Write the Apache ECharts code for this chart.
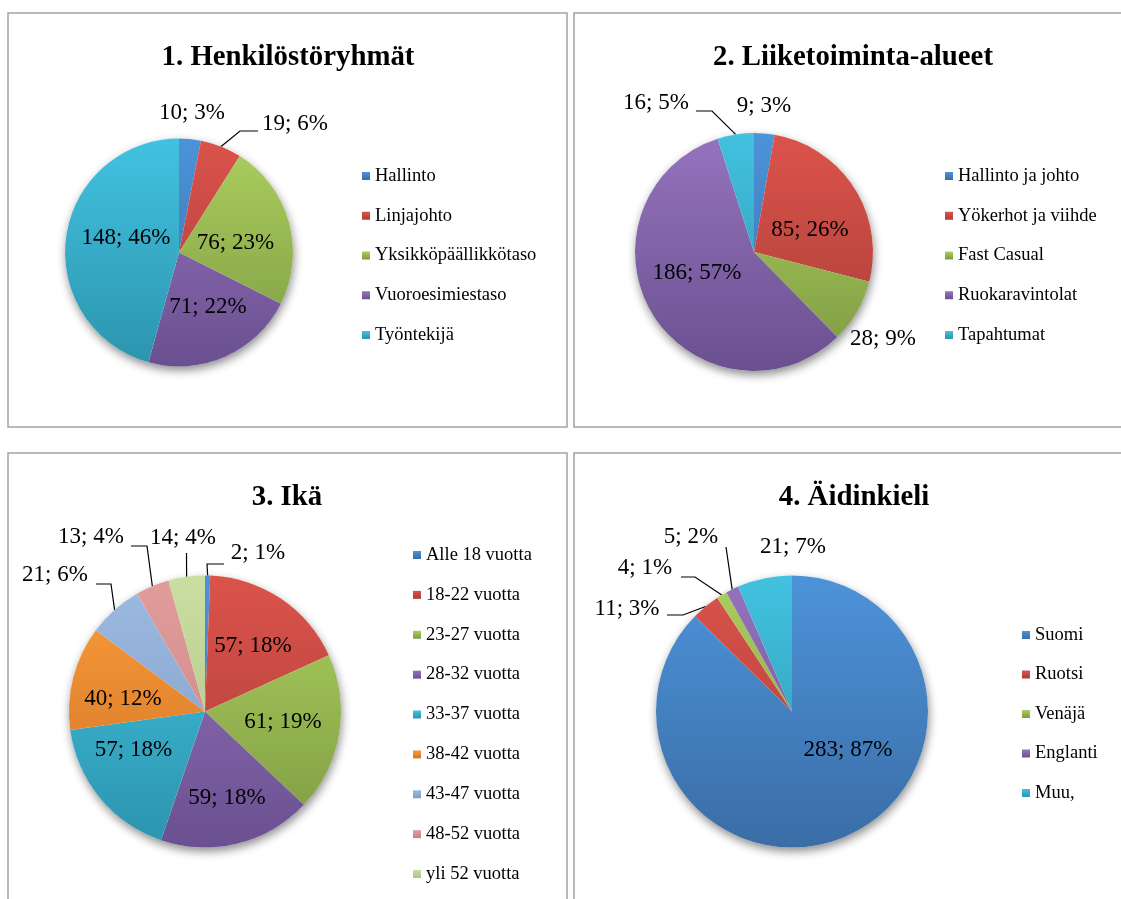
<!DOCTYPE html>
<html>
<head>
<meta charset="utf-8">
<title>Henkilöstökysely – taustatiedot</title>
<script src="https://cdn.jsdelivr.net/npm/echarts@6/dist/echarts.min.js"></script>
<style>
  html, body { margin: 0; padding: 0; background: #ffffff; }
  #chart { width: 1121px; height: 899px; }
</style>
</head>
<body>
<div id="chart"></div>
<script>
// ---- Data ----
const personnelGroups = ['Hallinto', 'Linjajohto', 'Yksikköpäällikkötaso', 'Vuoroesimiestaso', 'Työntekijä'];
const personnelCounts = [10, 19, 76, 71, 148];

const businessAreas = ['Hallinto ja johto', 'Yökerhot ja viihde', 'Fast Casual', 'Ruokaravintolat', 'Tapahtumat'];
const businessCounts = [9, 85, 28, 186, 16];

const ageGroups = ['Alle 18 vuotta', '18-22 vuotta', '23-27 vuotta', '28-32 vuotta', '33-37 vuotta',
                   '38-42 vuotta', '43-47 vuotta', '48-52 vuotta', 'yli 52 vuotta'];
const ageCounts = [2, 57, 61, 59, 57, 40, 21, 13, 14];

const languages = ['Suomi', 'Ruotsi', 'Venäjä', 'Englanti', 'Muu,'];
const languageCounts = [283, 11, 4, 5, 21];

// ---- Styling ----
const SERIF = '"Liberation Serif", "Times New Roman", Times, serif';

// [top, bottom] stops of the vertical shading used for every slice
const PALETTE = {
  blue:       ['#4D93D9', '#3A6DA6'],
  red:        ['#DB534B', '#A83E38'],
  green:      ['#ADCF5E', '#7D9A42'],
  purple:     ['#9574BD', '#6A5090'],
  aqua:       ['#42C2E0', '#2C94AE'],
  orange:     ['#FB9C3C', '#CF7223'],
  lightblue:  ['#9DBAE2', '#7F9BC2'],
  pink:       ['#E29D9B', '#C48381'],
  lightgreen: ['#C9DEA0', '#AFC286']
};

function pieShade(pair, cy, r) {
  return {
    type: 'linear', x: 0, y: cy - r, x2: 0, y2: cy + r, global: true,
    colorStops: [{ offset: 0, color: pair[0] }, { offset: 1, color: pair[1] }]
  };
}
function iconShade(pair) {
  return {
    type: 'linear', x: 0, y: 0, x2: 0, y2: 1,
    colorStops: [{ offset: 0, color: pair[0] }, { offset: 1, color: pair[1] }]
  };
}

// Panel layout: pie geometry, title, legend and label placement (offsets from pie centre)
const panels = [
  {
    title: '1. Henkilöstöryhmät', titleAt: [288, 58],
    names: personnelGroups, values: personnelCounts,
    colors: ['blue', 'red', 'green', 'purple', 'aqua'],
    center: [179, 252.5], radius: 114,
    legend: { left: 362, top: 166, gap: 19.75 },
    spots: [
      { at: [13, -139.5] },
      { at: [116, -128.5], line: [[61, -121.5], [79, -121.5]] },
      { at: [56.5, -9.5] },
      { at: [29, 54.5] },
      { at: [-53, -14.5] }
    ]
  },
  {
    title: '2. Liiketoiminta-alueet', titleAt: [853, 58],
    names: businessAreas, values: businessCounts,
    colors: ['blue', 'red', 'green', 'purple', 'aqua'],
    center: [754, 252], radius: 119,
    legend: { left: 945, top: 166, gap: 19.75 },
    spots: [
      { at: [10, -146] },
      { at: [56, -22] },
      { at: [129, 87] },
      { at: [-57, 21] },
      { at: [-98, -149], line: [[-42, -141], [-58, -141]] }
    ]
  },
  {
    title: '3. Ikä', titleAt: [287, 498],
    names: ageGroups, values: ageCounts,
    colors: ['blue', 'red', 'green', 'purple', 'aqua', 'orange', 'lightblue', 'pink', 'lightgreen'],
    center: [205, 711.5], radius: 136,
    legend: { left: 413, top: 545, gap: 19.875 },
    spots: [
      { at: [53, -158.5], line: [[2, -147.5], [19, -147.5]] },
      { at: [48, -65.5] },
      { at: [78, 10.5] },
      { at: [22, 86.5] },
      { at: [-71.5, 38.5] },
      { at: [-82, -12.5] },
      { at: [-150, -136.5], line: [[-94, -127.5], [-109, -127.5]] },
      { at: [-114, -174.5], line: [[-58, -165.5], [-74, -165.5]] },
      { at: [-22, -173.5], line: [[-18.5, -158.5]] }
    ]
  },
  {
    title: '4. Äidinkieli', titleAt: [854, 498],
    names: languages, values: languageCounts,
    colors: ['blue', 'red', 'green', 'purple', 'aqua'],
    center: [792, 711.5], radius: 136,
    legend: { left: 1022, top: 625, gap: 19.5 },
    spots: [
      { at: [56, 38.5] },
      { at: [-165, -102.5], line: [[-109, -96.5], [-125, -96.5]] },
      { at: [-147, -143.5], line: [[-97, -134.5], [-111, -134.5]] },
      { at: [-101, -174.5], line: [[-66, -164.5]] },
      { at: [1, -164.5] }
    ]
  }
];

// Point on the rim at the middle of slice i (pie starts at 12 o'clock, runs clockwise)
function rimPoint(values, i, cx, cy, r) {
  const total = values.reduce((a, b) => a + b, 0);
  let before = 0;
  for (let k = 0; k < i; k++) before += values[k];
  const mid = (before + values[i] / 2) / total * Math.PI * 2;
  return [cx + r * Math.sin(mid), cy - r * Math.cos(mid)];
}

const titles = [], legends = [], series = [];

panels.forEach(function (p) {
  const cx = p.center[0], cy = p.center[1], r = p.radius;

  titles.push({
    text: p.title,
    left: p.titleAt[0], top: p.titleAt[1],
    textAlign: 'center', textVerticalAlign: 'middle', padding: 0,
    textStyle: { fontFamily: SERIF, fontWeight: 'bold', fontSize: 28.8, color: '#000' }
  });

  legends.push({
    orient: 'vertical',
    left: p.legend.left, top: p.legend.top, padding: 0,
    itemGap: p.legend.gap, itemWidth: 8, itemHeight: 8, icon: 'rect',
    selectedMode: false,
    textStyle: { fontFamily: SERIF, fontSize: 18.5, color: '#000', lineHeight: 20 },
    data: p.names.map(function (n, i) {
      return { name: n, itemStyle: { color: iconShade(PALETTE[p.colors[i]]) } };
    })
  });

  // soft drop shadow under the whole pie
  series.push({
    type: 'pie', silent: true, z: 1,
    center: [cx, cy], radius: r,
    label: { show: false }, labelLine: { show: false },
    emphasis: { disabled: true },
    itemStyle: {
      color: '#ffffff', shadowBlur: 10, shadowOffsetX: 1, shadowOffsetY: 4,
      shadowColor: 'rgba(0,0,0,0.45)'
    },
    data: [{ name: '', value: p.values.reduce((a, b) => a + b, 0) }]
  });

  series.push({
    type: 'pie', z: 2,
    center: [cx, cy], radius: r,
    startAngle: 90, clockwise: true,
    avoidLabelOverlap: false,
    percentPrecision: 0,
    emphasis: { disabled: true },
    label: {
      formatter: '{c}; {d}%',
      fontFamily: SERIF, fontSize: 23, color: '#000'
    },
    labelLine: { lineStyle: { color: '#000', width: 1.2 } },
    data: p.names.map(function (n, i) {
      const hasLine = !!p.spots[i].line;
      return {
        name: n, value: p.values[i],
        itemStyle: { color: pieShade(PALETTE[p.colors[i]], cy, r) },
        label: { position: hasLine ? 'outside' : 'inside' },
        labelLine: { show: hasLine }
      };
    }),
    labelLayout: function (params) {
      const s = p.spots[params.dataIndex];
      const out = {
        x: cx + s.at[0], y: cy + s.at[1],
        align: 'center', verticalAlign: 'middle'
      };
      if (s.line) {
        const pts = [rimPoint(p.values, params.dataIndex, cx, cy, r)];
        s.line.forEach(function (q) { pts.push([cx + q[0], cy + q[1]]); });
        while (pts.length < 3) pts.push(pts[pts.length - 1].slice());
        out.labelLinePoints = pts;
      }
      return out;
    }
  });
});

// panel frames
const frameStyle = { fill: 'none', stroke: '#a3a3a3', lineWidth: 1.5 };
const frames = [
  [8, 13, 559, 414], [574, 13, 560, 414],
  [8, 453, 559, 460], [574, 453, 560, 460]
].map(function (f) {
  return { type: 'rect', z: 0, silent: true, shape: { x: f[0], y: f[1], width: f[2], height: f[3] }, style: frameStyle };
});

const chart = echarts.init(document.getElementById('chart'), null, { renderer: 'canvas' });
chart.setOption({
  backgroundColor: '#ffffff',
  animation: false,
  title: titles,
  legend: legends,
  graphic: frames,
  series: series
});
</script>
</body>
</html>
